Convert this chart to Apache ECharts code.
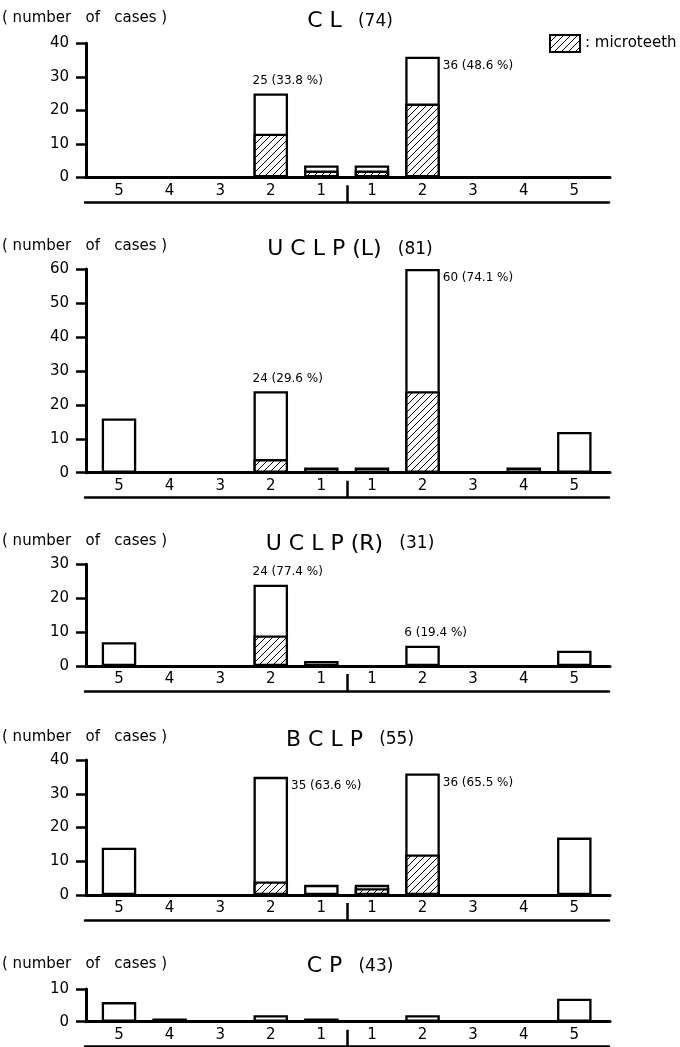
<!DOCTYPE html>
<html>
<head>
<meta charset="utf-8">
<script src="https://cdn.jsdelivr.net/npm/echarts@6/dist/echarts.min.js"></script>
<style>html,body{margin:0;padding:0;background:#fff}#c{width:680px;height:1047px}</style>
</head>
<body>
<div id="c"></div>
<script>
// ---- data ----
const tickLabels = ['5', '4', '3', '2', '1', '1', '2', '3', '4', '5'];
const panelNames = ['C L', 'U C L P (L)', 'U C L P (R)', 'B C L P', 'C P'];
const panelCounts = ['(74)', '(81)', '(31)', '(55)', '(43)'];
const yMaxes = [40, 60, 30, 40, 10];
const yTitle = '( number   of   cases )';
const legendText = ': microteeth';

const clTotal    = [0, 0, 0, 25, 3.5, 3.5, 36, 0, 0, 0];
const clMicro    = [0, 0, 0, 13, 2, 2, 22, 0, 0, 0];
const uclpLTotal = [16, 0, 0, 24, 1.5, 1.5, 60, 0, 1.5, 12];
const uclpLMicro = [0, 0, 0, 4, 0, 0, 24, 0, 0, 0];
const uclpRTotal = [7, 0, 0, 24, 1.5, 0, 6, 0, 0, 4.5];
const uclpRMicro = [0, 0, 0, 9, 0, 0, 0, 0, 0, 0];
const bclpTotal  = [14, 0, 0, 35, 3, 3, 36, 0, 0, 17];
const bclpMicro  = [0, 0, 0, 4, 0, 2, 12, 0, 0, 0];
const cpTotal    = [6, 1, 0, 2, 1, 0, 2, 0, 0, 7];
const cpMicro    = [0, 0, 0, 0, 0, 0, 0, 0, 0, 0];

const clLabels    = [{i: 3, text: '25 (33.8 %)', side: 'above'}, {i: 6, text: '36 (48.6 %)', side: 'right'}];
const uclpLLabels = [{i: 3, text: '24 (29.6 %)', side: 'above'}, {i: 6, text: '60 (74.1 %)', side: 'right'}];
const uclpRLabels = [{i: 3, text: '24 (77.4 %)', side: 'above'}, {i: 6, text: '6 (19.4 %)', side: 'above'}];
const bclpLabels  = [{i: 3, text: '35 (63.6 %)', side: 'right'}, {i: 6, text: '36 (65.5 %)', side: 'right'}];
const cpLabels    = [];

const totals = [clTotal, uclpLTotal, uclpRTotal, bclpTotal, cpTotal];
const micros = [clMicro, uclpLMicro, uclpRMicro, bclpMicro, cpMicro];
const labels = [clLabels, uclpLLabels, uclpRLabels, bclpLabels, cpLabels];

// ---- layout (pixels) ----
const layout = [
  {top: 43.3, zero: 177.3, numY: 18,    titleY: 21.7},
  {top: 269,  zero: 472.7, numY: 245.7, titleY: 249.5},
  {top: 564.3,zero: 666,   numY: 540.7, titleY: 544},
  {top: 760,  zero: 895,   numY: 736.7, titleY: 740},
  {top: 989,  zero: 1021.7,numY: 964,   titleY: 966.5}
];
const FONT = 'DejaVu Sans';
const BAR_W = 34.5;
const BORDER = 2.3;

function makeHatch() {
  const s = 7;
  const c = document.createElement('canvas');
  c.width = s; c.height = s;
  const g = c.getContext('2d');
  g.fillStyle = '#fff'; g.fillRect(0, 0, s, s);
  g.strokeStyle = '#000'; g.lineWidth = 1;
  g.beginPath();
  g.moveTo(0, s); g.lineTo(s, 0);
  g.moveTo(-1, 1); g.lineTo(1, -1);
  g.moveTo(s - 1, s + 1); g.lineTo(s + 1, s - 1);
  g.stroke();
  return c;
}
const hatch = {image: makeHatch(), repeat: 'repeat'};

const grids = [], xAxes = [], yAxes = [], series = [], titles = [];
totals.forEach((tot, p) => {
  const L = layout[p];
  const h = L.zero - L.top;
  const yMax = yMaxes[p];
  const g0 = grids.length;
  grids.push({left: 86, right: 70, top: L.top, height: h, outerBoundsMode: 'none'});
  grids.push({left: 93.7, right: 80.4, top: L.top, height: h, outerBoundsMode: 'none'});
  grids.push({left: 85, right: 71, top: L.zero + 8, height: 17, outerBoundsMode: 'none'});

  xAxes.push({gridIndex: g0, type: 'value', min: 0, max: 1,
    axisLine: {show: true, lineStyle: {color: '#000', width: 3}},
    axisTick: {show: false}, axisLabel: {show: false}, splitLine: {show: false}});
  yAxes.push({gridIndex: g0, type: 'value', min: 0, max: yMax, interval: 10,
    axisLine: {show: true, lineStyle: {color: '#000', width: 3}},
    axisTick: {show: true, length: 10, lineStyle: {color: '#000', width: 2.5}},
    axisLabel: {color: '#000', fontSize: 15, fontFamily: FONT, margin: 17},
    splitLine: {show: false}});

  xAxes.push({gridIndex: g0 + 1, type: 'category', data: tickLabels,
    axisLine: {show: false}, axisTick: {show: false},
    axisLabel: {color: '#000', fontSize: 15, fontFamily: FONT, margin: 6, interval: 0},
    splitLine: {show: false}});
  yAxes.push({gridIndex: g0 + 1, type: 'value', min: 0, max: yMax, show: false});

  xAxes.push({gridIndex: g0 + 2, type: 'value', min: 0, max: 2,
    axisLine: {show: true, onZero: false, lineStyle: {color: '#000', width: 2.5}},
    axisTick: {show: true, inside: true, length: 17, customValues: [1], lineStyle: {color: '#000', width: 2.5}},
    axisLabel: {show: false}, splitLine: {show: false}});
  yAxes.push({gridIndex: g0 + 2, type: 'value', min: 0, max: 1, show: false});

  const mic = micros[p];
  const labMap = {};
  labels[p].forEach(l => { labMap[l.i] = l; });

  series.push({
    type: 'bar', name: 'total', xAxisIndex: g0 + 1, yAxisIndex: g0 + 1,
    barWidth: BAR_W, barGap: '-100%', silent: true,
    itemStyle: {color: '#fff', borderColor: '#000', borderWidth: BORDER},
    data: tot.map((t, i) => {
      if (!(t > 0)) return '-';
      const item = {value: t};
      const l = labMap[i];
      if (l) {
        item.label = {show: true, formatter: l.text,
          position: l.side === 'above' ? [-1, -18.5] : [BAR_W + 3, 3],
          fontFamily: FONT, fontSize: 12, color: '#000'};
      }
      return item;
    })
  });
  series.push({
    type: 'bar', name: 'microteeth', xAxisIndex: g0 + 1, yAxisIndex: g0 + 1,
    barWidth: BAR_W, barGap: '-100%', silent: true,
    itemStyle: {color: hatch, borderColor: '#000', borderWidth: BORDER},
    data: mic.map(v => v > 0 ? v : '-')
  });

  titles.push({
    text: '{a|' + panelNames[p] + '}{b|   ' + panelCounts[p] + '}',
    left: 350, top: L.titleY - 13, textAlign: 'center', padding: 0,
    textStyle: {fontWeight: 'normal', rich: {
      a: {fontFamily: FONT, fontSize: 22, color: '#000', lineHeight: 26},
      b: {fontFamily: FONT, fontSize: 17, color: '#000', lineHeight: 26}
    }}
  });
  titles.push({
    text: yTitle, left: 2, top: L.numY - 9, padding: 0,
    textStyle: {fontFamily: FONT, fontSize: 15, fontWeight: 'normal', color: '#000', lineHeight: 18}
  });
});

const chart = echarts.init(document.getElementById('c'), null, {renderer: 'canvas'});
chart.setOption({
  animation: false,
  backgroundColor: '#fff',
  title: titles,
  legend: {
    data: ['microteeth'], left: 549, top: 34, padding: 0,
    itemWidth: 30, itemHeight: 17, selectedMode: false, icon: 'rect',
    formatter: legendText,
    itemStyle: {borderColor: '#000', borderWidth: 2},
    textStyle: {fontFamily: FONT, fontSize: 15, color: '#000'}
  },
  tooltip: {show: false},
  grid: grids,
  xAxis: xAxes,
  yAxis: yAxes,
  series: series
});
</script>
</body>
</html>
